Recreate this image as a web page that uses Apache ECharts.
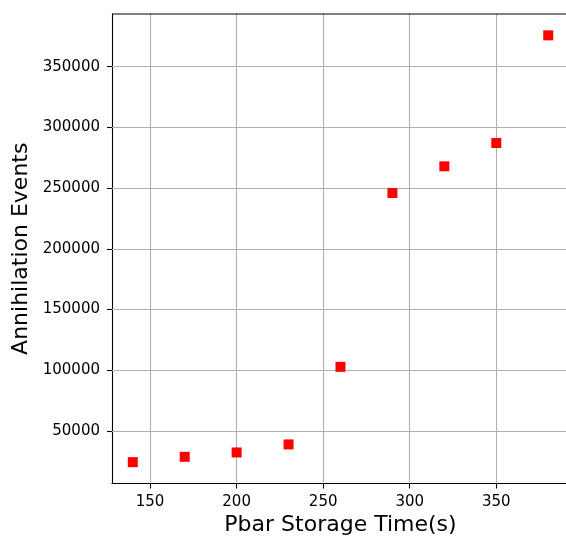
<!DOCTYPE html>
<html>
<head>
<meta charset="utf-8">
<script src="https://cdn.jsdelivr.net/npm/echarts@6/dist/echarts.min.js"></script>
<style>
  html, body { margin: 0; padding: 0; background: #fff; }
  #chart { width: 566px; height: 538px; }
</style>
</head>
<body>
<div id="chart"></div>
<script>
// Storage time (s) vs. counted annihilation events
const storageTimes = [140, 170, 200, 230, 260, 290, 320, 350, 380];
const annihilationEvents = [24200, 28600, 32200, 38800, 102700, 245900, 267900, 287100, 375800];

// Tick positions on each axis
const xTicks = [150, 200, 250, 300, 350];
const yTicks = [50000, 100000, 150000, 200000, 250000, 300000, 350000];

// Axis limits padded by 5% of the data span on each side
function padded(values) {
  const lo = Math.min(...values), hi = Math.max(...values);
  const m = (hi - lo) * 0.05;
  return [lo - m, hi + m];
}
const [xMin, xMax] = padded(storageTimes);
const [yMin, yMax] = padded(annihilationEvents);

const font = 'DejaVu Sans';
const gridStyle = { color: '#b0b0b0', width: 1.1, type: 'solid' };

const chart = echarts.init(document.getElementById('chart'), null, { renderer: 'canvas' });
chart.setOption({
  backgroundColor: '#ffffff',
  animation: false,
  grid: { left: 112, top: 14, width: 457, height: 469.5, containLabel: false, outerBoundsMode: 'none' },
  xAxis: {
    type: 'value', min: xMin, max: xMax,
    name: 'Pbar Storage Time(s)', nameLocation: 'middle', nameGap: 30,
    nameTextStyle: { fontFamily: font, fontSize: 22, color: '#000' },
    axisLine: { show: true, onZero: false, lineStyle: { color: '#000', width: 1.1 } },
    axisTick: { show: true, length: 5, inside: false, customValues: xTicks, lineStyle: { color: '#000', width: 1.1 } },
    axisLabel: { customValues: xTicks, margin: 11, fontFamily: font, fontSize: 15, color: '#000',
      formatter: v => String(v) },
    splitLine: { show: false }
  },
  yAxis: {
    type: 'value', min: yMin, max: yMax,
    name: 'Annihilation Events', nameLocation: 'middle', nameGap: 79, nameRotate: 90,
    nameTextStyle: { fontFamily: font, fontSize: 22, color: '#000' },
    axisLine: { show: true, onZero: false, lineStyle: { color: '#000', width: 1.1 } },
    axisTick: { show: true, length: 5, inside: false, customValues: yTicks, lineStyle: { color: '#000', width: 1.1 } },
    axisLabel: { customValues: yTicks, margin: 12, fontFamily: font, fontSize: 15, color: '#000',
      formatter: v => String(v) },
    splitLine: { show: false }
  },
  series: [
    {
      // grid lines drawn beneath the markers
      type: 'line', data: [], z: 1, silent: true,
      markLine: {
        silent: true, symbol: 'none', animation: false,
        label: { show: false },
        lineStyle: gridStyle,
        emphasis: { disabled: true },
        data: xTicks.map(v => ({ xAxis: v })).concat(yTicks.map(v => ({ yAxis: v })))
      }
    },
    {
      type: 'scatter', z: 5,
      symbol: 'rect', symbolSize: 10,
      itemStyle: { color: '#ff0000', opacity: 1 },
      data: storageTimes.map((t, i) => [t, annihilationEvents[i]])
    }
  ]
});
// top border of the plotting frame
chart.setOption({
  graphic: [{
    type: 'line', z: 10, silent: true,
    shape: (function () {
      const p0 = chart.convertToPixel({ gridIndex: 0 }, [xMin, yMax]);
      const p1 = chart.convertToPixel({ gridIndex: 0 }, [xMax, yMax]);
      return { x1: p0[0], y1: p0[1], x2: p1[0], y2: p1[1] };
    })(),
    style: { stroke: '#000', lineWidth: 1.1 }
  }]
});
</script>
</body>
</html>
